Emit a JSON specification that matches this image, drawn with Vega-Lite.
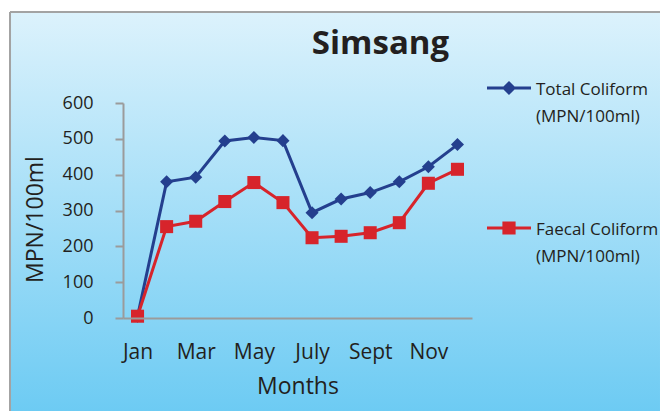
{
  "$schema": "https://vega.github.io/schema/vega-lite/v6.json",
  "width": 349,
  "height": 215,
  "padding": {"left": 9, "top": 11, "right": 0, "bottom": 0},
  "background": "white",
  "config": {
    "view": {"stroke": null},
    "font": "Open Sans"
  },
  "title": {
    "text": "Simsang",
    "font": "Open Sans",
    "fontSize": 33,
    "fontWeight": "bold",
    "color": "#231f20",
    "anchor": "middle",
    "baseline": "alphabetic",
    "dx": 83,
    "offset": -76
  },
  "data": {
    "values": [
      {"month": "Jan", "m": 1, "series": "Total Coliform", "value": 5},
      {"month": "Feb", "m": 2, "series": "Total Coliform", "value": 380},
      {"month": "Mar", "m": 3, "series": "Total Coliform", "value": 393},
      {"month": "Apr", "m": 4, "series": "Total Coliform", "value": 494},
      {"month": "May", "m": 5, "series": "Total Coliform", "value": 504},
      {"month": "Jun", "m": 6, "series": "Total Coliform", "value": 495},
      {"month": "July", "m": 7, "series": "Total Coliform", "value": 294},
      {"month": "Aug", "m": 8, "series": "Total Coliform", "value": 332},
      {"month": "Sept", "m": 9, "series": "Total Coliform", "value": 350},
      {"month": "Oct", "m": 10, "series": "Total Coliform", "value": 380},
      {"month": "Nov", "m": 11, "series": "Total Coliform", "value": 422},
      {"month": "Dec", "m": 12, "series": "Total Coliform", "value": 484},
      {"month": "Jan", "m": 1, "series": "Faecal Coliform", "value": 5},
      {"month": "Feb", "m": 2, "series": "Faecal Coliform", "value": 255},
      {"month": "Mar", "m": 3, "series": "Faecal Coliform", "value": 270},
      {"month": "Apr", "m": 4, "series": "Faecal Coliform", "value": 325},
      {"month": "May", "m": 5, "series": "Faecal Coliform", "value": 378},
      {"month": "Jun", "m": 6, "series": "Faecal Coliform", "value": 322},
      {"month": "July", "m": 7, "series": "Faecal Coliform", "value": 224},
      {"month": "Aug", "m": 8, "series": "Faecal Coliform", "value": 228},
      {"month": "Sept", "m": 9, "series": "Faecal Coliform", "value": 238},
      {"month": "Oct", "m": 10, "series": "Faecal Coliform", "value": 266},
      {"month": "Nov", "m": 11, "series": "Faecal Coliform", "value": 376},
      {"month": "Dec", "m": 12, "series": "Faecal Coliform", "value": 415}
    ]
  },
  "layer": [
    {
      "data": {"values": [{}]},
      "mark": {
        "type": "rect",
        "clip": false,
        "fill": {
          "gradient": "linear",
          "x1": 0, "y1": 0, "x2": 0, "y2": 1,
          "stops": [
            {"offset": 0, "color": "#dcf2fc"},
            {"offset": 1, "color": "#6dcbf3"}
          ]
        }
      },
      "encoding": {
        "x": {"datum": -3.385, "type": "quantitative", "scale": {"domain": [0.5, 12.5], "nice": false, "zero": false}},
        "x2": {"datum": 18.964},
        "y": {
          "datum": -259.5, "type": "quantitative", "scale": {"domain": [0, 600], "nice": false},
          "axis": {"zindex": 1, "title": "MPN/100ml", "values": [0, 100, 200, 300, 400, 500, 600], "tickCount": 7, "grid": false, "ticks": true, "tickSize": 8, "tickColor": "#9b9b9b", "tickWidth": 2, "domainColor": "#9b9b9b", "domainWidth": 2, "labelFont": "Open Sans", "labelFontSize": 18, "labelColor": "#231f20", "labelPadding": 22, "labelFlush": false, "labelOverlap": false, "titleFont": "Open Sans", "titleFontSize": 23, "titleFontWeight": "normal", "titleColor": "#231f20", "titlePadding": 15, "titleY": 116}
        },
        "y2": {"datum": 853.95}
      }
    },
    {
      "data": {"values": [{}]},
      "mark": {"type": "rule", "clip": false, "color": "#a3a3a3", "strokeWidth": 2},
      "encoding": {
        "x": {"datum": -3.385, "type": "quantitative", "scale": {"domain": [0.5, 12.5], "nice": false, "zero": false}},
        "x2": {"datum": 18.964},
        "y": {
          "datum": 853.95, "type": "quantitative", "scale": {"domain": [0, 600], "nice": false},
          "axis": {"zindex": 1, "title": "MPN/100ml", "values": [0, 100, 200, 300, 400, 500, 600], "tickCount": 7, "grid": false, "ticks": true, "tickSize": 8, "tickColor": "#9b9b9b", "tickWidth": 2, "domainColor": "#9b9b9b", "domainWidth": 2, "labelFont": "Open Sans", "labelFontSize": 18, "labelColor": "#231f20", "labelPadding": 22, "labelFlush": false, "labelOverlap": false, "titleFont": "Open Sans", "titleFontSize": 23, "titleFontWeight": "normal", "titleColor": "#231f20", "titlePadding": 15, "titleY": 116}
        }
      }
    },
    {
      "data": {"values": [{}]},
      "mark": {"type": "rule", "clip": false, "color": "#a3a3a3", "strokeWidth": 2},
      "encoding": {
        "x": {"datum": -3.385, "type": "quantitative", "scale": {"domain": [0.5, 12.5], "nice": false, "zero": false}},
        "y": {
          "datum": -259.5, "type": "quantitative", "scale": {"domain": [0, 600], "nice": false},
          "axis": {"zindex": 1, "title": "MPN/100ml", "values": [0, 100, 200, 300, 400, 500, 600], "tickCount": 7, "grid": false, "ticks": true, "tickSize": 8, "tickColor": "#9b9b9b", "tickWidth": 2, "domainColor": "#9b9b9b", "domainWidth": 2, "labelFont": "Open Sans", "labelFontSize": 18, "labelColor": "#231f20", "labelPadding": 22, "labelFlush": false, "labelOverlap": false, "titleFont": "Open Sans", "titleFontSize": 23, "titleFontWeight": "normal", "titleColor": "#231f20", "titlePadding": 15, "titleY": 116}
        },
        "y2": {"datum": 853.95}
      }
    },
    {
      "encoding": {
        "x": {
          "field": "m",
          "type": "quantitative",
          "scale": {"domain": [0.5, 12.5], "nice": false, "zero": false},
          "axis": {
            "zindex": 1,
            "title": "Months",
            "values": [1, 3, 5, 7, 9, 11],
            "labelExpr": "['', 'Jan', 'Feb', 'Mar', 'Apr', 'May', 'Jun', 'July', 'Aug', 'Sept', 'Oct', 'Nov', 'Dec'][datum.value]",
            "grid": false,
            "ticks": false,
            "domainColor": "#9b9b9b",
            "domainWidth": 2,
            "labelFont": "Open Sans",
            "labelFontSize": 21,
            "labelColor": "#231f20",
            "labelPadding": 23,
            "labelFlush": false,
            "labelOverlap": false,
            "titleFont": "Open Sans",
            "titleFontSize": 23,
            "titleFontWeight": "normal",
            "titleColor": "#231f20",
            "titlePadding": 13
          }
        },
        "y": {
          "field": "value",
          "type": "quantitative",
          "scale": {"domain": [0, 600], "nice": false},
          "axis": {"zindex": 1, "title": "MPN/100ml", "values": [0, 100, 200, 300, 400, 500, 600], "tickCount": 7, "grid": false, "ticks": true, "tickSize": 8, "tickColor": "#9b9b9b", "tickWidth": 2, "domainColor": "#9b9b9b", "domainWidth": 2, "labelFont": "Open Sans", "labelFontSize": 18, "labelColor": "#231f20", "labelPadding": 22, "labelFlush": false, "labelOverlap": false, "titleFont": "Open Sans", "titleFontSize": 23, "titleFontWeight": "normal", "titleColor": "#231f20", "titlePadding": 15, "titleY": 116}
        },
        "color": {
          "field": "series",
          "type": "nominal",
          "scale": {"domain": ["Total Coliform", "Faecal Coliform"], "range": ["#243f8e", "#d7242b"]},
          "legend": {
            "title": null,
            "orient": "none",
            "legendX": 364,
            "legendY": -37,
            "padding": 0,
            "rowPadding": 81,
            "symbolSize": 1936,
            "symbolStrokeWidth": 0,
            "symbolOpacity": 1,
            "labelExpr": "[datum.label, '(MPN/100ml)']",
            "labelFont": "Open Sans",
            "labelFontSize": 17,
            "labelColor": "#231f20",
            "labelBaseline": "top",
            "labelOffset": 5,
            "labelLimit": 300,
            "encode": {
              "labels": {"update": {"dy": {"value": -6}, "lineHeight": {"value": 27}}}
            }
          }
        }
      },
      "layer": [
        {"mark": {"type": "line", "strokeWidth": 3}},
        {
          "mark": {"type": "point", "filled": true, "opacity": 1, "size": 0},
          "encoding": {
            "shape": {
              "field": "series",
              "type": "nominal",
              "scale": {
                "domain": ["Total Coliform", "Faecal Coliform"],
                "range": [
                  "M-1,-0.068H1V0.068H-1ZM0,-0.32L0.32,0L0,0.32L-0.32,0Z",
                  "M-1,-0.068H1V0.068H-1ZM-0.3,-0.3H0.3V0.3H-0.3Z"
                ]
              }
            }
          }
        },
        {
          "mark": {
            "type": "point",
            "filled": true,
            "opacity": 1,
            "size": 170,
            "shape": {"expr": "datum.series === 'Total Coliform' ? 'diamond' : 'square'"}
          }
        }
      ]
    }
  ]
}
